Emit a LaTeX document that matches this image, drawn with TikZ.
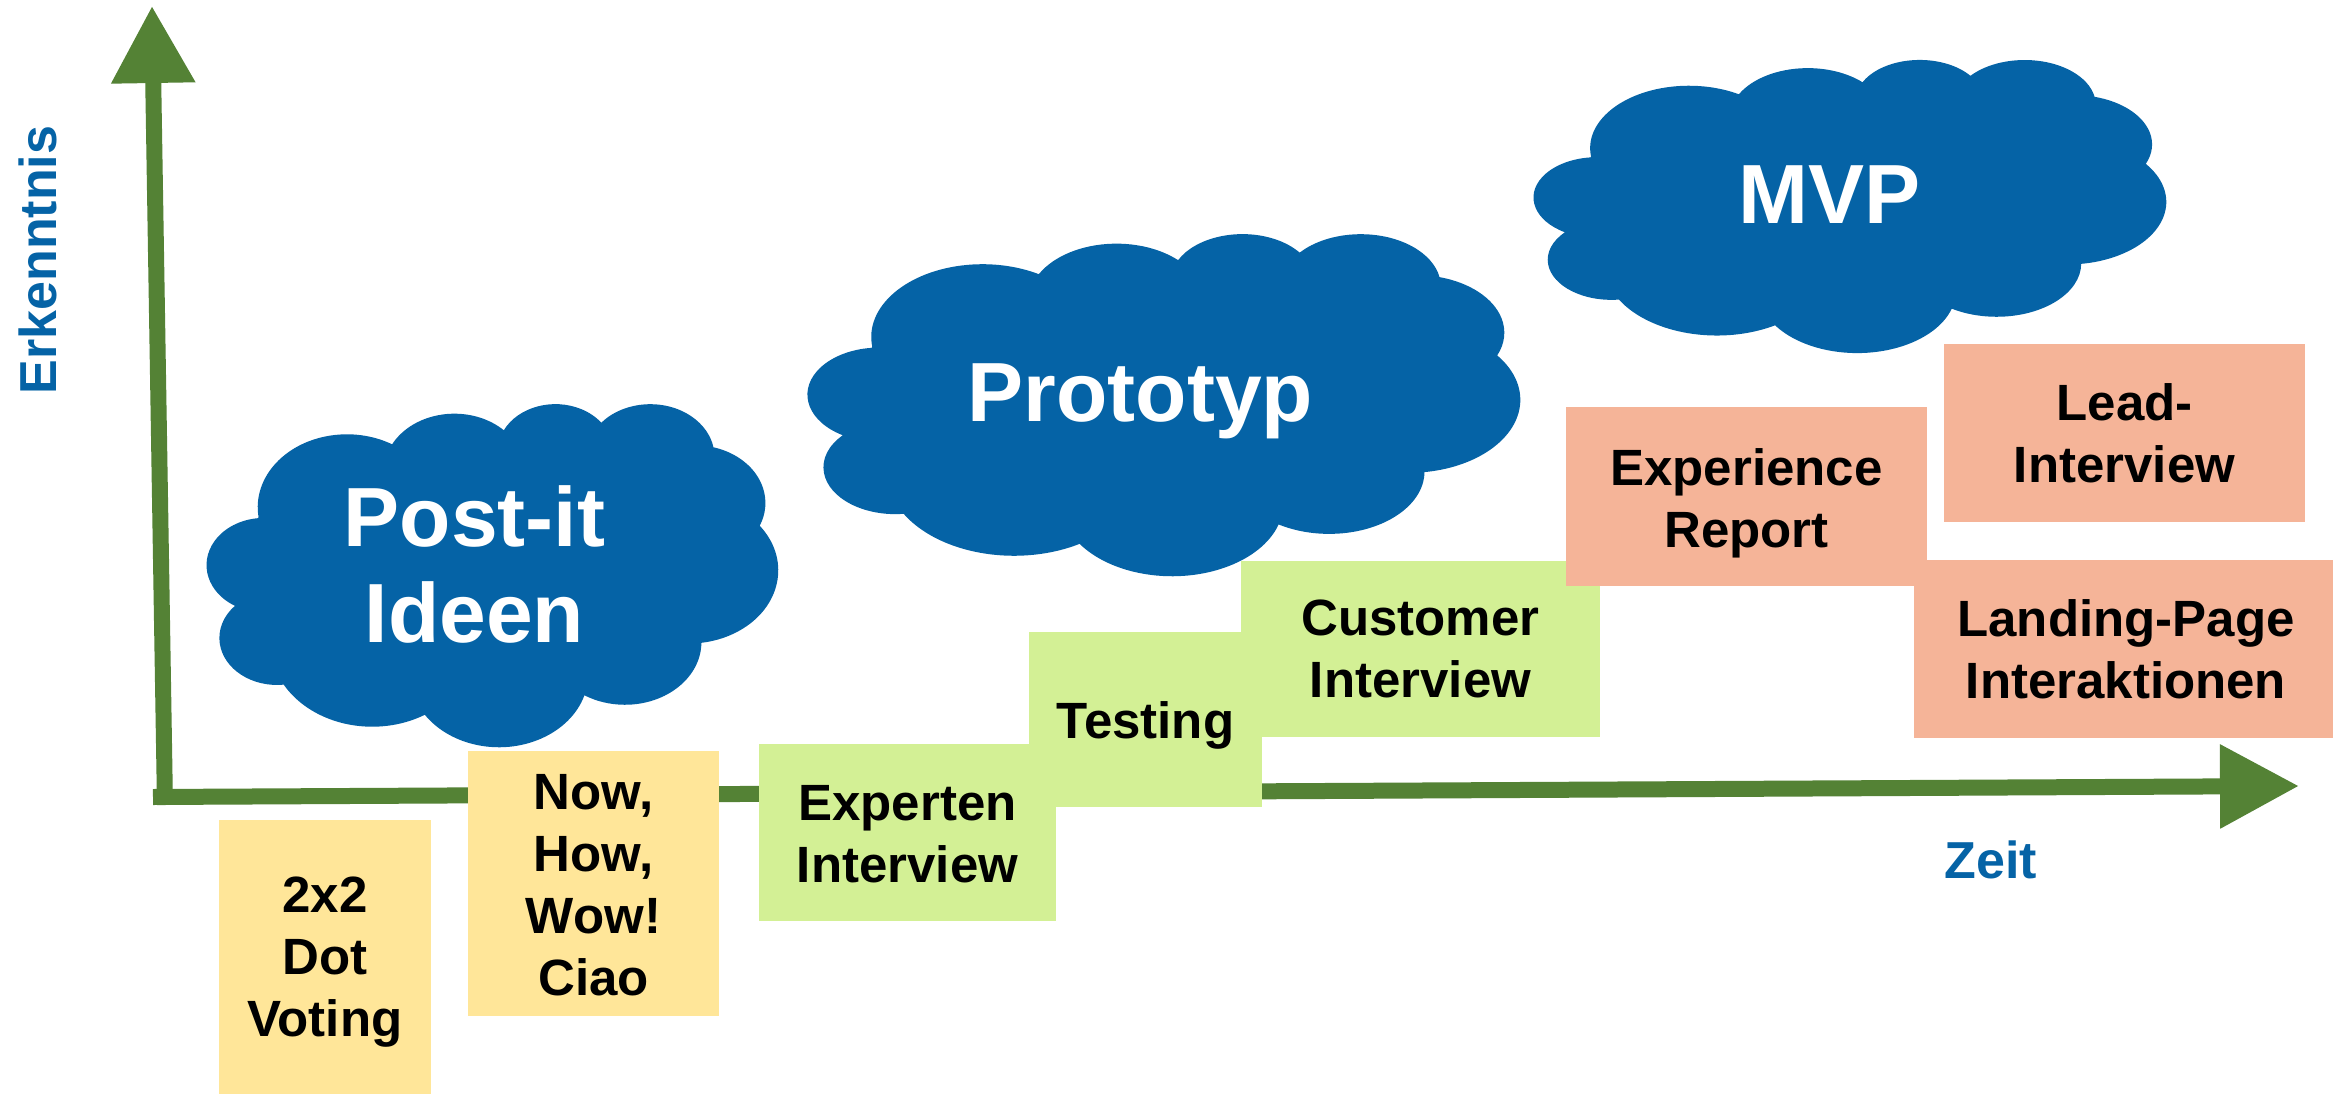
\documentclass[tikz,border=0pt]{standalone}
\usepackage{fontspec}
\setmainfont{Liberation Sans}
\usetikzlibrary{arrows.meta}
\definecolor{cblue}{HTML}{0563A6}
\definecolor{agreen}{HTML}{548235}
\definecolor{pyellow}{HTML}{FFE699}
\definecolor{pgreen}{HTML}{D3F095}
\definecolor{psalmon}{HTML}{F5B498}

\newcommand\arcdef[5]{%
  \pgfmathsetmacro\tmpS{atan2((#2)*sin(#4),(#3)*cos(#4))}%
  \pgfmathsetmacro\tmpE{atan2((#2)*sin((#4)+(#5)),(#3)*cos((#4)+(#5)))}%
  \pgfmathsetmacro\tmpD{mod(\tmpE-\tmpS+720,360)}%
  \expandafter\xdef\csname cldS#1\endcsname{\tmpS}%
  \expandafter\xdef\csname cldD#1\endcsname{\tmpD}%
}
\newcommand\cloudprep{%
  \arcdef{a}{67.53}{91.90}{-190.48748}{123.78053}%
  \arcdef{b}{53.33}{72.67}{-144.10238}{89.94523}%
  \arcdef{c}{43.65}{59.45}{-145.80792}{99.72302}%
  \arcdef{d}{48.57}{65.95}{-130.98607}{117.24173}%
  \arcdef{e}{53.33}{72.73}{-78.70888}{109.02692}%
  \arcdef{f}{67.75}{92.20}{-46.26725}{130.269}%
  \arcdef{g}{57.85}{78.67}{0.62502}{114.03333}%
  \arcdef{h}{67.52}{92.15}{22.4516}{115.17255}%
  \arcdef{i}{77.20}{105.43}{66.24263}{75.71102}%
  \arcdef{j}{43.60}{59.18}{-274.94208}{146.73557}%
  \arcdef{k}{43.45}{59.45}{-246.8285}{152.51885}%
}
\newcommand\pptcloud[4]{%
  \fill[cblue, shift={(#1,#2)}, xscale=#3/432, yscale=#4/432]
    (39.00,143.70)
    arc[start angle=\cldSa, delta angle=\cldDa, x radius=67.53, y radius=91.90]
    arc[start angle=\cldSb, delta angle=\cldDb, x radius=53.33, y radius=72.67]
    arc[start angle=\cldSc, delta angle=\cldDc, x radius=43.65, y radius=59.45]
    arc[start angle=\cldSd, delta angle=\cldDd, x radius=48.57, y radius=65.95]
    arc[start angle=\cldSe, delta angle=\cldDe, x radius=53.33, y radius=72.73]
    arc[start angle=\cldSf, delta angle=\cldDf, x radius=67.75, y radius=92.20]
    arc[start angle=\cldSg, delta angle=\cldDg, x radius=57.85, y radius=78.67]
    arc[start angle=\cldSh, delta angle=\cldDh, x radius=67.52, y radius=92.15]
    arc[start angle=\cldSi, delta angle=\cldDi, x radius=77.20, y radius=105.43]
    arc[start angle=\cldSj, delta angle=\cldDj, x radius=43.60, y radius=59.18]
    arc[start angle=\cldSk, delta angle=\cldDk, x radius=43.45, y radius=59.45]
    -- cycle;%
}

\tikzset{
  axis/.style={draw=agreen, line width=16pt, line cap=butt},
  cloudtext/.style={text=white, font=\fontsize{84}{96}\selectfont\bfseries, align=center, text depth=0pt, inner sep=0pt},
  note/.style={rectangle, inner sep=0pt, text=black, align=center, text depth=0pt,
    font=\fontsize{51}{62}\selectfont\bfseries},
  axlabel/.style={text=cblue, font=\fontsize{52}{62}\selectfont\bfseries, inner sep=0pt, text depth=0pt},
}

\begin{document}
\begin{tikzpicture}[x=1pt,y=-1pt]
\cloudprep
\useasboundingbox (0,0) rectangle (2333,1094);
\fill[white] (0,0) rectangle (2333,1094);

% axes
\coordinate (xstart) at (153,797);
\coordinate (xtip) at (2299,786);
\coordinate (ybot) at (165,805);
\coordinate (ytip) at (152,6);
\draw[axis, -{Triangle[length=79pt,width=80pt]}] (xstart) -- (xtip);
\draw[axis, -{Triangle[length=77pt,width=80pt]}] (ybot) -- (ytip);

\node[axlabel, rotate=90] (erk) at (38,260) {Erkenntnis};
\node[axlabel] (zeit) at (1991,860) {Zeit};

% clouds
\pptcloud{207}{403}{571}{343}
\pptcloud{808}{233}{712}{342}
\pptcloud{1534}{59}{632}{293}
\node[cloudtext] (postit) at (474.5,564) {Post-it\\Ideen};
\node[cloudtext] (proto) at (1140.5,392.5) {Prototyp};
\node[cloudtext] (mvp) at (1829.5,194.5) {MVP};

% notes
\node[note, fill=pyellow, minimum width=212pt, minimum height=274pt] (dot) at (325,957) {};
\node[note] at (dot.center) {2x2\\Dot\\Voting};
\node[note, fill=pyellow, minimum width=251pt, minimum height=265pt] (now) at (593.5,883.5) {};
\node[note] at (593.5,884.5) {Now,\\How,\\Wow!\\Ciao};
\node[note, fill=pgreen, minimum width=297pt, minimum height=177pt] (exp) at (907.5,832.5) {};
\node[note] at (907.5,834) {Experten\\Interview};
\node[note, fill=pgreen, minimum width=233pt, minimum height=175pt] (test) at (1145.5,719.5) {};
\node[note] at (1145.5,720) {Testing};
\node[note, fill=pgreen, minimum width=359pt, minimum height=176pt] (cust) at (1420.5,649) {};
\node[note] at (1420.5,649) {Customer\\Interview};
\node[note, fill=psalmon, minimum width=361pt, minimum height=179pt] (expr) at (1746.5,496.5) {};
\node[note] at (1746.5,498) {Experience\\Report};
\node[note, fill=psalmon, minimum width=424pt, minimum height=178pt] (land) at (2126,649) {};
\node[note] at (2126,649) {Landing-Page\\Interaktionen};
\node[note, fill=psalmon, minimum width=361pt, minimum height=178pt] (lead) at (2124.5,433) {};
\node[note] at (2124.5,433) {Lead-\\Interview};
\end{tikzpicture}
\end{document}
